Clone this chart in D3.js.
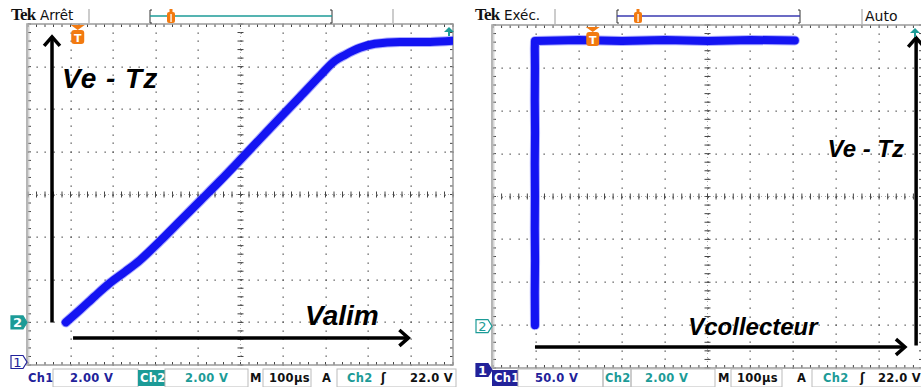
<!DOCTYPE html>
<html><head><meta charset="utf-8">
<script src="https://cdn.jsdelivr.net/npm/d3@7"></script>
<style>html,body{margin:0;padding:0;background:#fff;overflow:hidden}svg{display:block}</style>
</head><body>
<svg id="c" width="921" height="387"></svg>
<script>
// ---------- DATA ----------
// Left screen (YT mode): time (µs) vs Ve - Tz (V), Ch2 2.00 V/div, 100 µs/div
const ytTime = [89, 122, 158, 193, 228, 264, 311, 358, 405, 452, 499, 546, 593, 640, 687, 722, 746, 781, 816, 875, 946, 1000];
const ytVe   = [0.0, 0.58, 1.24, 1.85, 2.37, 2.93, 3.82, 4.76, 5.70, 6.64, 7.62, 8.61, 9.60, 10.58, 11.57, 12.27, 12.55, 12.88, 13.07, 13.16, 13.16, 13.21];
// Right screen (XY mode): Vcollecteur (V, Ch1 50 V/div) vs Ve - Tz (V, Ch2 2 V/div)
const xyVc = [48.8, 48.6, 48.9, 48.6, 48.8, 48.6, 48.9, 48.6, 48.8, 48.6, 48.8, 100, 150, 200, 250, 300, 351];
const xyVe = [0, 1.5, 3, 4.5, 6, 7.5, 9, 10.5, 12, 12.9, 13.25, 13.3, 13.25, 13.3, 13.25, 13.3, 13.28];
// Header / status texts
const leftHeader = ["Tek", "Arrêt"];
const rightHeader = ["Tek", "Exéc.", "Auto"];
const leftStatus = ["Ch1", "2.00 V", "Ch2", "2.00 V", "M", "100µs", "A", "Ch2", "ʃ", "22.0 V"];
const rightStatus = ["Ch1", "50.0 V", "Ch2", "2.00 V", "M", "100µs", "A", "Ch2", "ʃ", "22.0 V"];
// Annotation labels
const leftLabels = ["Ve - Tz", "Valim"];
const rightLabels = ["Ve - Tz", "Vcollecteur"];

// ---------- SETUP ----------
const svg = d3.select("#c");
const BLUE = "#1414f2", TEAL = "#1c9b97", NAVY = "#22229a", ORANGE = "#f27a10", GRAY = "#9a9a9a";

const L = {x0: 28, x1: 453, y0: 24, y1: 365};
const R = {x0: 493, x1: 922, y0: 25, y1: 368};

const xL = d3.scaleLinear().domain([0, 1000]).range([L.x0, L.x1]);
const yL = d3.scaleLinear().domain([-2, 14]).range([L.y1, L.y0]);
const xR = d3.scaleLinear().domain([0, 500]).range([R.x0, R.x0 + 430]);
const yR = d3.scaleLinear().domain([-2, 14]).range([R.y1, R.y0]);

const defs = svg.append("defs");
defs.append("clipPath").attr("id", "clipL").append("rect").attr("x", L.x0).attr("y", L.y0).attr("width", L.x1 - L.x0).attr("height", L.y1 - L.y0);
defs.append("clipPath").attr("id", "clipR").append("rect").attr("x", R.x0).attr("y", R.y0).attr("width", R.x1 - R.x0).attr("height", R.y1 - R.y0);

function grid(P) {
  const g = svg.append("g");
  const dx = (P.x1 - P.x0) / 10, dy = (P.y1 - P.y0) / 8;
  const pts = [];
  for (let i = 1; i < 10; i++) for (let k = 0; k <= 40; k++) pts.push([P.x0 + i * dx, P.y0 + k * dy / 5]);
  for (let j = 1; j < 8; j++) for (let k = 0; k <= 50; k++) pts.push([P.x0 + k * dx / 5, P.y0 + j * dy]);
  g.selectAll("rect.d").data(pts).join("rect").attr("x", d => Math.round(d[0]) - 0.5).attr("y", d => Math.round(d[1]) - 0.5)
    .attr("width", 1.3).attr("height", 1.3).attr("fill", "#555");
  const cx = P.x0 + 5 * dx, cy = P.y0 + 4 * dy;
  const ticks = [];
  for (let k = 0; k <= 40; k++) ticks.push([cx - 3, P.y0 + k * dy / 5, cx + 3, P.y0 + k * dy / 5]);
  for (let k = 0; k <= 50; k++) ticks.push([P.x0 + k * dx / 5, cy - 3, P.x0 + k * dx / 5, cy + 3]);
  for (let k = 0; k <= 50; k++) { const x = P.x0 + k * dx / 5; ticks.push([x, P.y0, x, P.y0 + 3]); ticks.push([x, P.y1, x, P.y1 - 3]); }
  for (let k = 0; k <= 40; k++) { const y = P.y0 + k * dy / 5; ticks.push([P.x0, y, P.x0 + 3, y]); ticks.push([P.x1, y, P.x1 - 3, y]); }
  g.selectAll("line.t").data(ticks).join("line").attr("x1", d => d[0]).attr("y1", d => d[1]).attr("x2", d => d[2]).attr("y2", d => d[3])
    .attr("stroke", "#444").attr("stroke-width", 1);
  g.append("line").attr("x1", cx).attr("x2", cx).attr("y1", P.y0).attr("y2", P.y1).attr("stroke", "#777").attr("stroke-width", 0.6).attr("stroke-dasharray", "1,3");
  g.append("line").attr("x1", P.x0).attr("x2", P.x1).attr("y1", cy).attr("y2", cy).attr("stroke", "#777").attr("stroke-width", 0.6).attr("stroke-dasharray", "1,3");
  g.append("rect").attr("x", P.x0 - 1).attr("y", P.y0).attr("width", P.x1 - P.x0 + 1).attr("height", P.y1 - P.y0)
    .attr("fill", "none").attr("stroke", GRAY).attr("stroke-width", 1.5);
  g.append("rect").attr("x", P.x0 - 1.5).attr("y", P.y0).attr("width", 3).attr("height", P.y1 - P.y0).attr("fill", "#bbb").attr("opacity", 0.6);
}
grid(L); grid(R);

// ---------- TRACES ----------
const lineL = d3.line().x((d, i) => xL(ytTime[i])).y((d, i) => yL(ytVe[i])).curve(d3.curveMonotoneX);
const lineR = d3.line().x((d, i) => xR(xyVc[i])).y((d, i) => yR(xyVe[i])).curve(d3.curveLinear);
function trace(path, clip) {
  const g = svg.append("g").attr("clip-path", `url(#${clip})`);
  g.append("path").attr("d", path).attr("fill", "none").attr("stroke", "#6b6bff").attr("stroke-width", 10)
    .attr("stroke-linecap", "round").attr("stroke-linejoin", "round").attr("opacity", 0.55);
  g.append("path").attr("d", path).attr("fill", "none").attr("stroke", BLUE).attr("stroke-width", 8)
    .attr("stroke-linecap", "round").attr("stroke-linejoin", "round");
}
trace(lineL(ytTime), "clipL");
trace(lineR(xyVc), "clipR");

// ---------- ARROWS ----------
function arrow(x1, y1, x2, y2) {
  const g = svg.append("g").attr("stroke", "#000").attr("stroke-width", 3.5).attr("fill", "none").attr("stroke-linecap", "butt");
  g.append("line").attr("x1", x1).attr("y1", y1).attr("x2", x2).attr("y2", y2);
  const a = Math.atan2(y2 - y1, x2 - x1), h = 12;
  const p1 = [x2 - h * Math.cos(a - 0.72), y2 - h * Math.sin(a - 0.72)];
  const p2 = [x2 - h * Math.cos(a + 0.72), y2 - h * Math.sin(a + 0.72)];
  g.append("polyline").attr("points", [p1, [x2, y2], p2].map(p => p.join(",")).join(" ")).attr("stroke-linejoin", "miter");
}
arrow(xL(56.5), yL(0), xL(56.5), yL(13.4));
arrow(xL(106), yL(-0.73), xL(895), yL(-0.73));
arrow(xR(492), yR(-0.95), xR(492), yR(13.4));
arrow(xR(48.8), yR(-1.02), xR(479), yR(-1.02));

// ---------- LABELS ----------
const lab = (x, y, t, fs) => svg.append("text").attr("x", x).attr("y", y).text(t)
  .attr("font-family", "Liberation Sans, Arial, sans-serif").attr("font-weight", "bold").attr("font-style", "italic")
  .attr("font-size", fs).attr("fill", "#000");
lab(xL(80), yL(11.0), leftLabels[0], 28).attr("letter-spacing", 1);
lab(xL(652), yL(-0.12), leftLabels[1], 28);
lab(xR(389), yR(7.85), rightLabels[0], 24);
lab(xR(227), yR(-0.46), rightLabels[1], 24);

// ---------- MARKERS ----------
function tMarker(x, y) {
  svg.append("path").attr("d", `M${x - 7},${y} L${x + 7},${y} L${x},${y + 5} Z`).attr("fill", ORANGE);
  svg.append("rect").attr("x", x - 6.5).attr("y", y + 5).attr("width", 13).attr("height", 14).attr("rx", 3).attr("fill", ORANGE);
  svg.append("text").attr("x", x).attr("y", y + 16.5).attr("text-anchor", "middle").text("T")
    .attr("font-family", "DejaVu Sans, sans-serif").attr("font-weight", "bold").attr("font-size", 11).attr("fill", "#fff");
}
tMarker(xL(117), L.y0 + 1);
tMarker(xR(116), R.y0 + 2);
function levelArrow(x, y) {
  svg.append("path").attr("d", `M${x - 5},${y + 5} L${x},${y} L${x + 5},${y + 5} Z`).attr("fill", TEAL);
  svg.append("rect").attr("x", x - 1).attr("y", y + 4).attr("width", 2).attr("height", 5).attr("fill", TEAL);
}
levelArrow(449, L.y0 + 3);
levelArrow(915, R.y0 + 3);

function chMarker(x, y, label, color, filled) {
  const d = `M${x},${y - 6.5} L${x + 12},${y - 6.5} L${x + 16},${y} L${x + 12},${y + 6.5} L${x},${y + 6.5} Z`;
  svg.append("path").attr("d", d).attr("fill", filled ? color : "#fff").attr("stroke", color).attr("stroke-width", 1.2);
  svg.append("text").attr("x", x + 6.5).attr("y", y + 5).attr("text-anchor", "middle").text(label)
    .attr("font-family", "DejaVu Sans, sans-serif").attr("font-size", 13).attr("font-weight", filled ? "bold" : "normal").attr("fill", filled ? "#fff" : color);
}
chMarker(11, yL(0), "2", TEAL, true);
chMarker(11, 362, "1", NAVY, false);
chMarker(476, yR(0) + 1, "2", TEAL, false);
chMarker(476, 370, "1", NAVY, true);

// ---------- HEADERS ----------
function header(ox, texts, lineColor, sepA, sepB, brA, brB, mark) {
  svg.append("text").attr("x", ox).attr("y", 20).text(texts[0]).attr("font-family", "Liberation Serif, serif").attr("font-weight", "bold").attr("font-size", 17).attr("letter-spacing", -0.8).attr("fill", "#111");
  svg.append("text").attr("x", ox + 29).attr("y", 20).text(texts[1]).attr("font-family", "DejaVu Sans, sans-serif").attr("font-size", 13.5).attr("fill", "#111");
  [sepA, sepB].forEach(s => svg.append("line").attr("x1", s).attr("x2", s).attr("y1", 9).attr("y2", 24).attr("stroke", "#bbb").attr("stroke-width", 1.5));
  const g = svg.append("g").attr("stroke", "#333").attr("fill", "none").attr("stroke-width", 1);
  g.append("path").attr("d", `M${brA + 2},10 L${brA},10 L${brA},23 L${brA + 2},23`);
  g.append("path").attr("d", `M${brB - 2},10 L${brB},10 L${brB},23 L${brB - 2},23`);
  svg.append("line").attr("x1", brA).attr("x2", brB).attr("y1", 16).attr("y2", 16).attr("stroke", lineColor).attr("stroke-width", 1.3);
  svg.append("rect").attr("x", mark - 1.5).attr("y", 9).attr("width", 3).attr("height", 3).attr("fill", ORANGE);
  svg.append("rect").attr("x", mark - 4).attr("y", 12).attr("width", 8).attr("height", 11).attr("rx", 2).attr("fill", ORANGE);
  svg.append("rect").attr("x", mark - 0.6).attr("y", 14).attr("width", 1.3).attr("height", 8).attr("fill", "#fff");
}
header(11, leftHeader, TEAL, 89, 393, 150, 332, 171);
header(475, rightHeader, "#3a3ab0", 555, 862, 617, 800, 638);
svg.append("text").attr("x", 865).attr("y", 21).text(rightHeader[2]).attr("font-family", "DejaVu Sans, sans-serif").attr("font-size", 14).attr("fill", "#111");

// ---------- STATUS BARS ----------
function status(ox, t, ch1Filled) {
  const fs = 11.5, y = 382, ff = "DejaVu Sans, sans-serif";
  const box = (x, w) => svg.append("rect").attr("x", ox + x).attr("y", 369).attr("width", w).attr("height", 18).attr("fill", "none").attr("stroke", "#bbb").attr("stroke-width", 1);
  const txt = (x, s, c, anchor) => svg.append("text").attr("x", ox + x).attr("y", y).text(s).attr("font-family", ff).attr("font-weight", "bold")
    .attr("font-size", fs).attr("fill", c).attr("text-anchor", anchor || "start").attr("letter-spacing", 0.3);
  if (ch1Filled) {
    svg.append("rect").attr("x", ox + 32).attr("y", 370).attr("width", 26).attr("height", 16).attr("fill", NAVY);
    txt(34, t[0], "#fff");
  } else txt(28, t[0], NAVY);
  box(ch1Filled ? 58 : 53, 85);
  txt(ch1Filled ? 75 : 70, t[1], NAVY);
  if (!ch1Filled) {
    svg.append("rect").attr("x", ox + 138).attr("y", 370).attr("width", 27).attr("height", 16).attr("fill", TEAL);
    txt(140, t[2], "#fff");
    box(165, 83);
    txt(185, t[3], TEAL);
  } else {
    box(143, 28);
    txt(145, t[2], TEAL);
    box(171, 84);
    txt(185, t[3], TEAL);
  }
  const off = ch1Filled ? 8 : 0;
  txt(250 + off, t[4], "#111");
  box(263 + off, 48 + (ch1Filled ? 3 : 0));
  txt(269 + off, t[5], "#111");
  txt(322 + off + (ch1Filled ? 7 : 0), t[6], "#111");
  box(337 + off + (ch1Filled ? 7 : 0), 119);
  txt(347 + off + (ch1Filled ? 8 : 0), t[7], TEAL);
  txt(381 + off + (ch1Filled ? 11 : 0), t[8], "#111");
  txt(ch1Filled ? 461 : 453, t[9], "#111", "end");
}
status(0, leftStatus, false);
status(460, rightStatus, true);
</script>
</body></html>
